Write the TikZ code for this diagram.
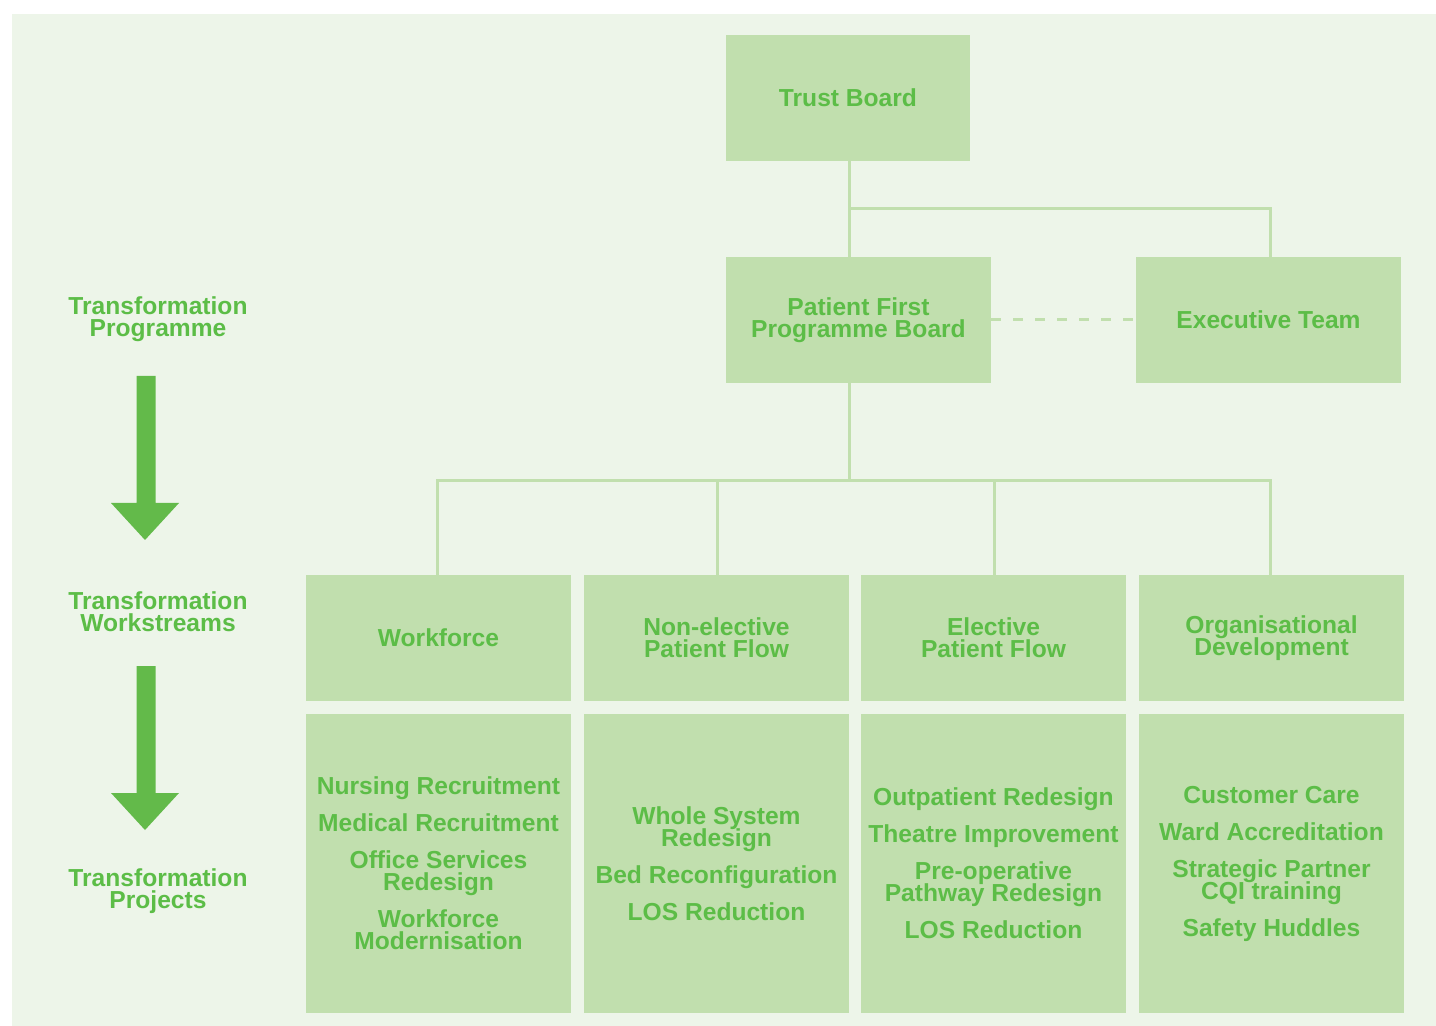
\documentclass[tikz,border=0pt]{standalone}
\usepackage{fontspec}
\setmainfont{Liberation Sans}
\definecolor{pagebg}{HTML}{EDF5E9}
\definecolor{boxfill}{HTML}{C1DFAE}
\definecolor{boxtext}{HTML}{5CBD47}
\definecolor{arrowfill}{HTML}{63BA4A}
% tight, fixed line spacing for all labels
\newcommand\labelfont{\fontsize{12.3}{11}\selectfont\lineskiplimit=-20pt\relax\bfseries}

\begin{document}
\begin{tikzpicture}[x=0.5pt, y=-0.5pt,
    box/.style={fill=boxfill, text=boxtext, align=center, inner sep=0pt, font=\labelfont},
    wide/.style={box, minimum width=132.5pt, minimum height=63pt},
    tall/.style={box, minimum width=132.5pt, minimum height=149.5pt},
    side/.style={text=boxtext, align=center, font=\labelfont},
    link/.style={draw=boxfill, line width=1.5pt}]
            \useasboundingbox (0,0) rectangle (1436,1026);
            \fill[pagebg] (12,14) rectangle (1436,1026);

            % top of the tree
            \node[box, minimum width=122pt, minimum height=63pt] (trust) at (848,98) {Trust Board};
            \node[wide] (board) at (858.5,320) {Patient First\\Programme Board};
            \node[wide] (exec) at (1268.5,320) {Executive Team};

            % workstreams
            \node[wide] (ws1) at (438.5,638) {Workforce};
            \node[wide] (ws2) at (716.5,638) {Non-elective\\Patient Flow};
            \node[wide] (ws3) at (993.5,638) {Elective\\Patient Flow};
            \node[wide] (ws4) at (1271.5,638) {Organisational\\Development};

            % projects under each workstream
            \node[tall] (pr1) at (438.5,863.5) {Nursing Recruitment\\[7.5pt]Medical Recruitment\\[7.5pt]Office Services\\Redesign\\[7.5pt]Workforce\\Modernisation};
            \node[tall] (pr2) at (716.5,863.5) {Whole System\\Redesign\\[7.5pt]Bed Reconfiguration\\[7.5pt]LOS Reduction};
            \node[tall] (pr3) at (993.5,863.5) {Outpatient Redesign\\[7.5pt]Theatre Improvement\\[7.5pt]Pre-operative\\Pathway Redesign\\[7.5pt]LOS Reduction};
            \node[tall] (pr4) at (1271.5,863.5) {Customer Care\\[7.5pt]Ward Accreditation\\[7.5pt]Strategic Partner\\CQI training\\[7.5pt]Safety Huddles};

            % connectors
            \coordinate (fork) at (849,209);
            \coordinate (split) at (849,481);
            \draw[link] (fork |- trust.south) -- (fork |- board.north);
            \draw[link] (fork) -| (1270,257) coordinate (execin);
            \draw[link] (fork |- board.south) -- (split);
            \draw[link] (split) -| (437,575) coordinate (in1);
            \draw[link] (split) -| (717,575) coordinate (in2);
            \draw[link] (split) -| (994,575) coordinate (in3);
            \draw[link] (split) -| (1270,575) coordinate (in4);
            \draw[link, dash pattern=on 5pt off 6pt] (board.east) -- (exec.west);

            % level labels and arrows on the left
            \node[side] (lprog) at (158,319) {Transformation\\Programme};
            \node[side] (lws) at (158,612) {Transformation\\Workstreams};
            \node[side] (lproj) at (158,891) {Transformation\\Projects};
            \fill[arrowfill] (136.5,376) -- (155.5,376) -- (155.5,503) -- (179,503)
                -- (145,540) -- (111,503) -- (136.5,503) -- cycle;
            \fill[arrowfill] (136.5,666) -- (155.5,666) -- (155.5,793) -- (179,793)
                -- (145,830) -- (111,793) -- (136.5,793) -- cycle;
        \end{tikzpicture}
\end{document}
